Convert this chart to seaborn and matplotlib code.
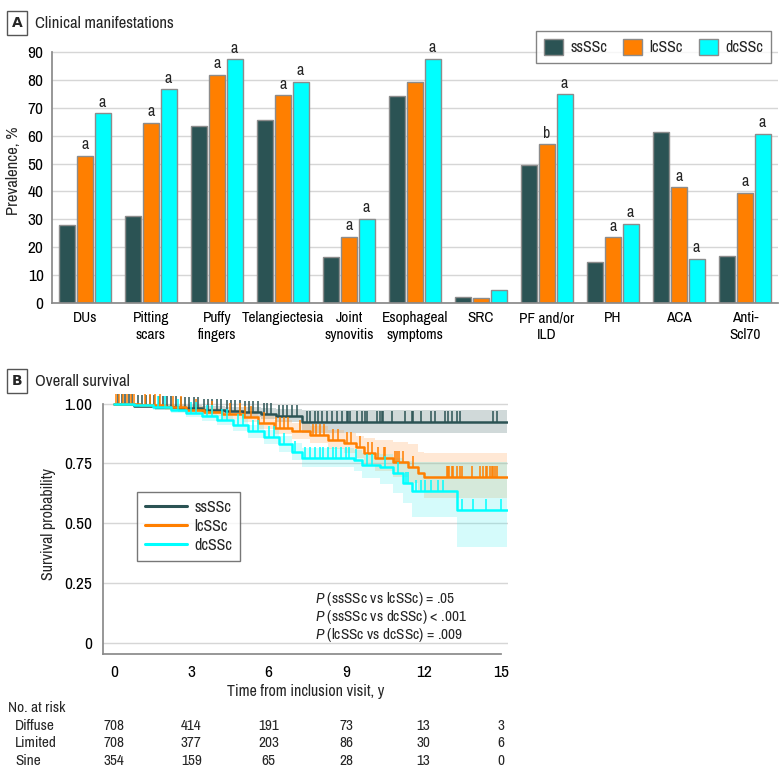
import numpy as np
import pandas as pd
import matplotlib
matplotlib.use("Agg")
import matplotlib.pyplot as plt
import matplotlib.transforms as mtransforms
from matplotlib import font_manager
from matplotlib.patches import Patch
from matplotlib.lines import Line2D
import seaborn as sns

# ==========================================
# Data
# ==========================================

groups = ["ssSSc", "lcSSc", "dcSSc"]
colors = ["#2b5354", "#ff7f00", "#00ffff"]
band_colors = ["#2b5354", "#ff9a40", "#40f0f0"]

features = ["DUs", "Pitting\nscars", "Puffy\nfingers", "Telangiectesia", "Joint\nsynovitis",
            "Esophageal\nsymptoms", "SRC", "PF and/or\nILD", "PH", "ACA", "Anti-\nScl70"]
prev_ss = [27.8, 31.2, 63.3, 65.5, 16.4, 74.3, 2.3, 49.4, 14.6, 61.3, 16.7]
prev_lc = [52.8, 64.5, 81.8, 74.4, 23.8, 79.3, 1.8, 56.9, 23.5, 41.5, 39.4]
prev_dc = [68.0, 76.6, 87.3, 79.4, 30.2, 87.6, 4.7, 74.8, 28.3, 15.9, 60.6]
sig_ss = [""] * 11
sig_lc = ["a", "a", "a", "a", "a", "", "", "b", "a", "a", "a"]
sig_dc = ["a", "a", "a", "a", "a", "a", "", "a", "a", "a", "a"]

# Kaplan-Meier steps (time in years, survival) with 95% CI
ss_t = [0, 0.8, 1.6, 2.5, 3.4, 4.3, 5.0, 5.7, 6.3, 7.3, 15.25]
ss_s = [1.0, 0.99, 0.985, 0.98, 0.975, 0.97, 0.965, 0.958, 0.95, 0.922, 0.922]
ss_lo = [1.0, 0.98, 0.972, 0.965, 0.958, 0.951, 0.944, 0.935, 0.925, 0.876, 0.876]
ss_hi = [1.0, 1.0, 0.996, 0.993, 0.99, 0.987, 0.984, 0.98, 0.976, 0.974, 0.974]

lc_t = [0, 1.0, 2.0, 2.8, 3.5, 4.2, 5.0, 5.6, 6.2, 6.9, 7.6, 8.3, 8.9, 9.4, 9.7, 10.1, 10.8, 11.4, 11.8, 12.0, 15.25]
lc_s = [1.0, 0.995, 0.985, 0.975, 0.965, 0.955, 0.945, 0.92, 0.9, 0.885, 0.87, 0.85, 0.835, 0.82, 0.795,
        0.775, 0.755, 0.735, 0.71, 0.695, 0.695]
lc_lo = [1.0, 0.985, 0.972, 0.96, 0.948, 0.936, 0.922, 0.895, 0.872, 0.853, 0.835, 0.812, 0.793, 0.775, 0.745,
         0.72, 0.695, 0.67, 0.64, 0.607, 0.607]
lc_hi = [1.0, 1.0, 0.997, 0.99, 0.982, 0.975, 0.967, 0.947, 0.93, 0.918, 0.905, 0.89, 0.878, 0.866, 0.855,
         0.85, 0.84, 0.83, 0.8, 0.795, 0.795]

dc_t = [0, 0.8, 1.5, 2.2, 2.8, 3.4, 4.0, 4.6, 5.2, 5.8, 6.4, 6.9, 7.3, 9.3, 9.6, 10.3, 10.8, 11.2, 11.55, 13.3, 15.25]
dc_s = [1.0, 0.995, 0.985, 0.975, 0.962, 0.948, 0.93, 0.91, 0.885, 0.86, 0.83, 0.8, 0.775, 0.765, 0.745,
        0.735, 0.71, 0.67, 0.635, 0.556, 0.556]
dc_lo = [1.0, 0.986, 0.973, 0.96, 0.945, 0.929, 0.909, 0.886, 0.858, 0.83, 0.797, 0.764, 0.735, 0.72, 0.69,
         0.665, 0.627, 0.585, 0.527, 0.40, 0.40]
dc_hi = [1.0, 1.0, 0.997, 0.99, 0.979, 0.967, 0.951, 0.934, 0.912, 0.89, 0.863, 0.836, 0.815, 0.808, 0.795,
         0.79, 0.775, 0.76, 0.755, 0.755, 0.755]

# censoring times
ss_cens = [0.15, 0.3, 0.45, 0.6, 0.7, 0.95, 1.1, 1.25, 1.4, 1.55, 1.75, 1.9, 2.05, 2.2, 2.4, 2.6, 2.75, 2.9,
           3.1, 3.25, 3.5, 3.65, 3.8, 4.0, 4.15, 4.4, 4.55, 4.7, 4.9, 5.1, 5.25, 5.4, 5.6, 5.8, 5.95, 6.1,
           6.4, 6.55, 6.7, 6.9, 7.1, 7.5, 7.6, 7.8, 7.9, 8.07, 8.26, 8.45, 8.65, 8.84, 9.03, 9.07, 9.15,
           9.42, 9.6, 9.73, 9.81, 10.2, 10.3, 10.4, 10.44, 10.78, 11.28, 11.55, 11.6, 11.9, 12.3, 12.44,
           12.83, 12.94, 13.1, 13.29, 13.41, 14.69, 14.84]
lc_cens = [0.1, 0.2, 0.35, 0.5, 0.65, 0.8, 1.2, 1.4, 1.6, 1.8, 2.3, 2.6, 3.2, 3.8, 4.5, 4.9, 5.1, 5.3,
           5.8, 6.3, 6.45, 6.6, 6.75, 7.2, 7.7, 7.85, 8.0, 8.15, 8.5, 8.7, 9.05, 9.2, 9.55, 9.85, 10.0,
           10.25, 10.45, 10.5, 10.9, 10.97, 11.05, 11.2, 11.6, 12.9, 12.95, 13.0, 13.1, 13.15, 13.3, 13.4,
           13.5, 13.88, 14.2, 14.3, 14.4, 14.46, 14.58, 14.65, 14.7, 14.77, 14.85]
dc_cens = [1.7, 2.0, 2.5, 3.0, 3.2, 3.6, 3.8, 4.2, 4.4, 4.8, 5.0, 5.4, 5.6, 6.0, 6.2, 6.6, 7.0, 7.4, 7.6,
           7.8, 8.0, 8.1, 8.3, 8.5, 8.6, 8.8, 9.0, 9.1, 9.4, 9.8, 10.0, 10.5, 11.0, 11.3, 11.4, 11.7, 11.9,
           12.05, 12.3, 12.55, 12.75, 13.5, 13.9, 14.4, 15.0]

time_ticks = [0, 3, 6, 9, 12, 15]
risk_rows = ["Diffuse", "Limited", "Sine"]
risk_diffuse = [708, 414, 191, 73, 13, 3]
risk_limited = [708, 377, 203, 86, 30, 6]
risk_sine = [354, 159, 65, 28, 13, 0]

p_texts = ["(ssSSc vs lcSSc) = .05", "(ssSSc vs dcSSc) < .001", "(lcSSc vs dcSSc) = .009"]

# ==========================================
# Style
# ==========================================

sns.set_theme(style="white")

# pick a narrow sans if one is installed, otherwise Lato
all_fonts = font_manager.fontManager.ttflist
narrow = sorted({f.name for f in all_fonts if "Narrow" in f.name or "Condensed" in f.name})
cond_fams = sorted({f.name for f in all_fonts
                    if str(f.stretch) in ("condensed", "semi-condensed", "extra-condensed")})
if narrow:
    FONT = [narrow[0], "DejaVu Sans"]
    STRETCH = "normal"
    FS = 11
elif cond_fams:
    FONT = [cond_fams[0], "DejaVu Sans"]
    STRETCH = "condensed"
    FS = 11
else:
    FONT = ["Lato", "DejaVu Sans"]
    STRETCH = "normal"
    FS = 10.5

plt.rcParams["font.family"] = FONT
plt.rcParams["font.stretch"] = STRETCH
plt.rcParams["mathtext.fontset"] = "custom"
plt.rcParams["mathtext.it"] = FONT[0] + ":italic"
plt.rcParams["mathtext.rm"] = FONT[0]
plt.rcParams["axes.edgecolor"] = "#8a8a8a"
plt.rcParams["xtick.color"] = "#8a8a8a"
plt.rcParams["ytick.color"] = "#8a8a8a"
plt.rcParams["xtick.labelcolor"] = "black"
plt.rcParams["ytick.labelcolor"] = "black"

fig = plt.figure(figsize=(7.8, 7.8), dpi=100)
W = 780.0

# ==========================================
# Panel A: bar chart
# ==========================================

ax1 = fig.add_axes([52 / W, 1 - 303 / W, 726 / W, 265 / W])

df = pd.DataFrame({
    "Feature": features * 3,
    "Group": [g for g in groups for _ in features],
    "Prevalence": prev_ss + prev_lc + prev_dc,
})
sns.barplot(data=df, x="Feature", y="Prevalence", hue="Group", hue_order=groups,
            palette=colors, width=0.8, gap=0.08, edgecolor="#8c8c8c", linewidth=1,
            saturation=1, ax=ax1, legend=False)

for cont, sig in zip(ax1.containers, [sig_ss, sig_lc, sig_dc]):
    for bar, s in zip(cont, sig):
        if s:
            ax1.text(bar.get_x() + bar.get_width() / 2, bar.get_height() + 1.3, s,
                     ha="center", va="bottom", fontsize=FS + 0.5)

ax1.set_xlim(-0.5, 10.5)
ax1.set_ylim(0, 95)
ax1.set_yticks(range(0, 91, 10))
ax1.yaxis.grid(True, color="#d6d6d6", lw=1)
ax1.set_axisbelow(True)
for sp in ["top", "right"]:
    ax1.spines[sp].set_visible(False)
ax1.spines["left"].set_bounds(0, 90)
ax1.tick_params(axis="y", length=4, width=1, labelsize=FS + 1.5, pad=2)
ax1.tick_params(axis="x", length=0, labelsize=FS, pad=6)
ax1.set_xlabel("")
ax1.set_ylabel("Prevalence, %", fontsize=FS + 1, labelpad=5)
for lab in ax1.get_xticklabels():
    lab.set_linespacing(1.2)

handles = [Patch(facecolor=c, edgecolor="#8c8c8c", label=g) for g, c in zip(groups, colors)]
leg1 = fig.legend(handles=handles, loc="upper right", bbox_to_anchor=(771 / W, 1 - 31 / W),
                  ncol=3, fontsize=FS + 0.5, frameon=True, fancybox=False, edgecolor="#666666",
                  handlelength=1.2, handleheight=1.15, handletextpad=0.45, columnspacing=1.0,
                  borderpad=0.5, borderaxespad=0)
leg1.get_frame().set_linewidth(1)

fig.text(17 / W, 1 - 23 / W, "A", ha="center", va="center", fontsize=10, fontweight="bold",
         family="DejaVu Sans",
         bbox=dict(boxstyle="square,pad=0.35", fc="white", ec="#555555", lw=1))
fig.text(35 / W, 1 - 23 / W, "Clinical manifestations", ha="left", va="center", fontsize=FS + 1)

# ==========================================
# Panel B: survival
# ==========================================

ax2 = fig.add_axes([103 / W, 1 - 654 / W, 405 / W, 260 / W])

curves = [(ss_t, ss_s, ss_lo, ss_hi, ss_cens),
          (lc_t, lc_s, lc_lo, lc_hi, lc_cens),
          (dc_t, dc_s, dc_lo, dc_hi, dc_cens)]

for (t, s, lo, hi, cens), col, bcol in zip(curves, colors, band_colors):
    ax2.fill_between(t, lo, hi, step="post", color=bcol, alpha=0.22, lw=0)

for (t, s, lo, hi, cens), col, g in zip(curves, colors, groups):
    sns.lineplot(x=t, y=s, drawstyle="steps-post", color=col, lw=1.8, ax=ax2, legend=False)
    t_arr, s_arr = np.array(t), np.array(s)
    idx = np.searchsorted(t_arr, np.array(cens), side="right") - 1
    # censoring ticks point upward from the curve
    ax2.plot(cens, s_arr[idx], ls="none", marker=2, ms=8, mew=1.1, color=col)

ax2.set_xlim(-0.42, 15.27)
ax2.set_ylim(-0.045, 1.04)
ax2.set_xticks(time_ticks)
ax2.set_yticks([0, 0.25, 0.5, 0.75, 1.0])
ax2.set_yticklabels(["0", "0.25", "0.50", "0.75", "1.00"])
ax2.yaxis.grid(True, color="#d6d6d6", lw=1)
ax2.set_axisbelow(True)
for sp in ["top", "right"]:
    ax2.spines[sp].set_visible(False)
ax2.spines["bottom"].set_bounds(-0.42, 15)
ax2.spines["left"].set_bounds(-0.045, 1.0)
ax2.tick_params(axis="both", length=5, width=1, labelsize=FS + 1.5, pad=3)
ax2.set_xlabel("Time from inclusion visit, y", fontsize=FS + 0.5, labelpad=3)
ax2.set_ylabel("Survival probability", fontsize=FS + 0.5, labelpad=6)

leg_handles = [Line2D([0], [0], color=c, lw=2.2) for c in colors]
leg2 = ax2.legend(leg_handles, groups, loc="upper left", bbox_to_anchor=(0.084, 0.623),
                  fontsize=FS + 0.5, frameon=True, fancybox=False, edgecolor="#555555",
                  handlelength=2.6, handletextpad=0.5, borderpad=0.5, labelspacing=0.25,
                  borderaxespad=0)
leg2.get_frame().set_linewidth(1)

for i, txt in enumerate(p_texts):
    ax2.text(7.8, 0.185 - i * 0.075, r"$\mathit{P}$ " + txt, fontsize=FS, va="center", ha="left")

fig.text(17 / W, 1 - 381 / W, "B", ha="center", va="center", fontsize=10, fontweight="bold",
         family="DejaVu Sans",
         bbox=dict(boxstyle="square,pad=0.35", fc="white", ec="#555555", lw=1))
fig.text(35 / W, 1 - 381 / W, "Overall survival", ha="left", va="center", fontsize=FS + 1)

# number at risk table
trans = mtransforms.blended_transform_factory(ax2.transData, fig.transFigure)
fig.text(8 / W, 1 - 708 / W, "No. at risk", ha="left", va="center", fontsize=FS)
for row, vals, ypx in zip(risk_rows, [risk_diffuse, risk_limited, risk_sine], [726, 743, 761]):
    fig.text(15 / W, 1 - ypx / W, row, ha="left", va="center", fontsize=FS)
    for tt, v in zip(time_ticks, vals):
        ax2.text(tt, 1 - ypx / W, str(v), transform=trans, ha="center", va="center", fontsize=FS)

fig.savefig("out.png", dpi=100)
